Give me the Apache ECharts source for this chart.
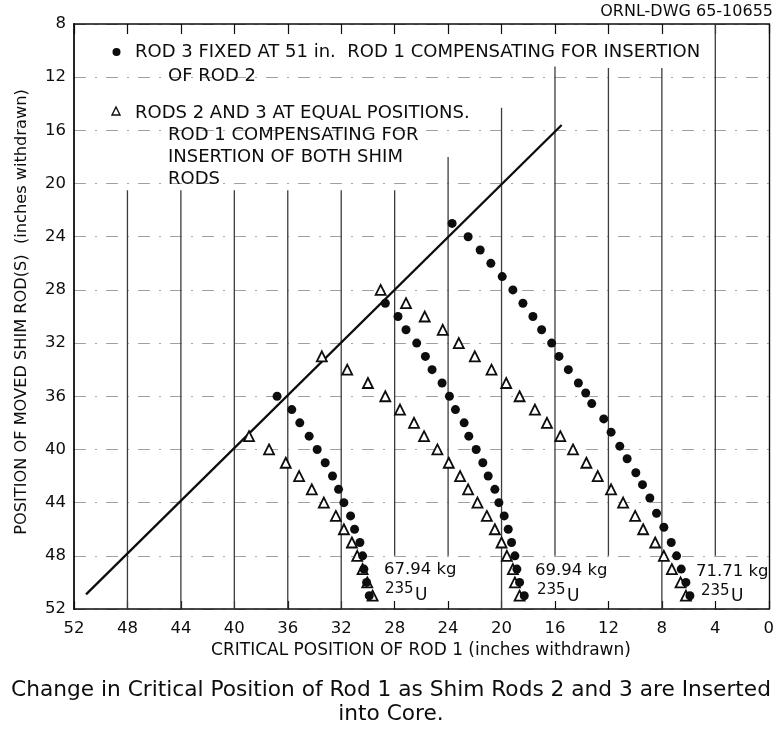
<!DOCTYPE html>
<html>
<head>
<meta charset="utf-8">
<script src="https://cdn.jsdelivr.net/npm/echarts@6/dist/echarts.min.js"></script>
<style>
  html, body { margin: 0; padding: 0; background: #ffffff; }
  #chart { width: 777px; height: 730px; }
</style>
</head>
<body>
<div id="chart"></div>
<script>
// Axis ticks (inches withdrawn)
const rod1Ticks = [52, 48, 44, 40, 36, 32, 28, 24, 20, 16, 12, 8, 4, 0];
const shimTicks = [8, 12, 16, 20, 24, 28, 32, 36, 40, 44, 48, 52];

// Rod 3 fixed at 51 in., rod 1 compensating for insertion of rod 2 (filled dots)
const fixed6794Shim = [36, 37, 38, 39, 40, 41, 42, 43, 44, 45, 46, 47, 48, 49, 50, 51];
const fixed6794Rod1 = [36.8, 35.7, 35.1, 34.4, 33.8, 33.2, 32.65, 32.2, 31.8, 31.3, 31.0, 30.6, 30.4, 30.3, 30.1, 29.9];

const fixed6994Shim = [29, 30, 31, 32, 33, 34, 35, 36, 37, 38, 39, 40, 41, 42, 43, 44, 45, 46, 47, 48, 49, 50, 51];
const fixed6994Rod1 = [28.7, 27.75, 27.15, 26.35, 25.7, 25.2, 24.45, 23.9, 23.45, 22.8, 22.45, 21.9, 21.4, 21.0, 20.5, 20.2, 19.8, 19.5, 19.25, 19.0, 18.85, 18.65, 18.3];

const fixed7171Shim = [23, 24, 25, 26, 27, 28, 29, 30, 31, 32, 33, 34, 35, 35.75, 36.55, 37.7, 38.7, 39.75, 40.7, 41.75, 42.65, 43.65, 44.8, 45.85, 47, 48, 49, 50, 51];
const fixed7171Rod1 = [23.7, 22.5, 21.6, 20.8, 19.95, 19.15, 18.4, 17.65, 17.0, 16.25, 15.7, 15.0, 14.25, 13.7, 13.25, 12.35, 11.8, 11.15, 10.6, 9.95, 9.45, 8.9, 8.4, 7.85, 7.3, 6.9, 6.55, 6.2, 5.9];

// Rods 2 and 3 at equal positions, rod 1 compensating for both (open triangles)
const equal6794Shim = [39, 40, 41, 42, 43, 44, 45, 46, 47, 48, 49, 50, 51];
const equal6794Rod1 = [38.9, 37.4, 36.15, 35.15, 34.2, 33.3, 32.4, 31.8, 31.2, 30.8, 30.4, 30.05, 29.65];

const equal6994Shim = [33, 34, 35, 36, 37, 38, 39, 40, 41, 42, 43, 44, 45, 46, 47, 48, 49, 50, 51];
const equal6994Rod1 = [33.45, 31.55, 30.0, 28.7, 27.6, 26.55, 25.8, 24.8, 23.95, 23.1, 22.5, 21.8, 21.1, 20.5, 20.0, 19.6, 19.15, 19.0, 18.65];

const equal7171Shim = [28, 29, 30, 31, 32, 33, 34, 35, 36, 37, 38, 39, 40, 41, 42, 43, 44, 45, 46, 47, 48, 49, 50, 51];
const equal7171Rod1 = [29.05, 27.15, 25.75, 24.4, 23.2, 22.0, 20.75, 19.65, 18.65, 17.5, 16.6, 15.6, 14.65, 13.65, 12.8, 11.8, 10.9, 10.0, 9.4, 8.5, 7.85, 7.25, 6.6, 6.2];

// Reference diagonal: rod 1 at the same position as the moved shim rod
const diagonalRod1 = [51.1, 15.5];
const diagonalShim = [50.9, 15.6];

// Vertical rules: rod-1 position, and the shim range each rule spans
const ruleRod1 = [48, 44, 40, 36, 32, 28, 24, 20, 16, 12, 8, 4];
const ruleFrom = [20.5, 20.5, 20.5, 20.5, 20.5, 20.5, 18, 14.3, 11.2, 11.3, 11.3, 8];
const ruleTo   = [52, 52, 52, 52, 52, 48, 48, 52, 48, 48, 52, 48];

// U-235 loadings written beside each set of curves
const loadings = ['67.94 kg', '69.94 kg', '71.71 kg'];

const INK = '#0d0d0d';
const FONT = '"DejaVu Sans", "Liberation Sans", sans-serif';

function pairs(xs, ys) { return xs.map((x, i) => [x, ys[i]]); }

const dotStyle = { color: INK, opacity: 1 };
const triStyle = { color: '#ffffff', borderColor: INK, borderWidth: 1.8, opacity: 1 };

const chart = echarts.init(document.getElementById('chart'), null, { renderer: 'canvas' });

function txt(x, y, text, size, extra) {
  return {
    type: 'text', x: x, y: y, z: 50,
    style: Object.assign({ text: text, fill: INK, font: size + 'px ' + FONT, textVerticalAlign: 'middle' }, extra || {})
  };
}

const LEG = 18;
const graphics = [
  txt(773, 12, 'ORNL-DWG 65-10655', 16, { textAlign: 'right' }),
  // legend block
  { type: 'circle', shape: { cx: 116.5, cy: 52, r: 4 }, style: { fill: INK }, z: 50 },
  txt(135, 52, 'ROD 3 FIXED AT 51 in.  ROD 1 COMPENSATING FOR INSERTION', LEG),
  txt(168, 76, 'OF ROD 2', LEG),
  { type: 'polygon', shape: { points: [[116, 107], [112, 115], [120, 115]] }, style: { fill: '#fff', stroke: INK, lineWidth: 1.4 }, z: 50 },
  txt(135, 113, 'RODS 2 AND 3 AT EQUAL POSITIONS.', LEG),
  txt(168, 135, 'ROD 1 COMPENSATING FOR', LEG),
  txt(168, 157, 'INSERTION OF BOTH SHIM', LEG),
  txt(168, 179, 'RODS', LEG),
  // loadings
  txt(384, 570, loadings[0], 16.5), txt(385, 589, '235', 15), txt(415, 596, 'U', 17),
  txt(535, 571, loadings[1], 16.5), txt(537, 590, '235', 15), txt(567, 597, 'U', 17),
  txt(696, 572, loadings[2], 16.5), txt(701, 591, '235', 15), txt(731, 597, 'U', 17),
  // axis titles
  txt(421, 651, 'CRITICAL POSITION OF ROD 1 (inches withdrawn)', 17, { textAlign: 'center' }),
  Object.assign(txt(22, 312, 'POSITION OF MOVED SHIM ROD(S)  (inches withdrawn)', 16.2, { textAlign: 'center' }), { rotation: Math.PI / 2 }),
  // caption
  txt(391, 690, 'Change in Critical Position of Rod 1 as Shim Rods 2 and 3 are Inserted', 21.7, { textAlign: 'center' }),
  txt(391, 714, 'into Core.', 21.7, { textAlign: 'center' })
];

const option = {
  backgroundColor: '#ffffff',
  animation: false,
  grid: { left: 74, right: 5, top: 24, bottom: 121, containLabel: false },
  xAxis: [
    {
      type: 'value', min: 0, max: 52, interval: 4, inverse: true, position: 'bottom',
      axisLine: { show: true, lineStyle: { color: INK, width: 1.6 } },
      axisTick: { show: true, inside: true, length: 8, lineStyle: { color: INK, width: 1.2 } },
      axisLabel: { color: INK, fontSize: 16.5, fontFamily: FONT, margin: 11,
        formatter: v => rod1Ticks.indexOf(v) >= 0 ? String(v) : '' },
      splitLine: { show: false }
    },
    {
      type: 'value', min: 0, max: 52, interval: 4, inverse: true, position: 'top',
      axisLine: { show: true, onZero: false, lineStyle: { color: INK, width: 1.6 } },
      axisTick: { show: true, inside: true, length: 10, lineStyle: { color: INK, width: 1.2 } },
      axisLabel: { show: false }, splitLine: { show: false }
    }
  ],
  yAxis: [
    {
      type: 'value', min: 8, max: 52, interval: 4, inverse: true, position: 'left',
      axisLine: { show: true, onZero: false, lineStyle: { color: INK, width: 1.8 } },
      axisTick: { show: false },
      axisLabel: { color: INK, fontSize: 16.5, fontFamily: FONT, margin: 8,
        formatter: v => shimTicks.indexOf(v) >= 0 ? String(v) : '' },
      splitLine: { show: true, lineStyle: { color: '#a3a3a3', width: 1.1, type: [12, 9, 2, 9] } }
    },
    {
      type: 'value', min: 8, max: 52, interval: 4, inverse: true, position: 'right',
      axisLine: { show: true, onZero: false, lineStyle: { color: INK, width: 1.4 } },
      axisTick: { show: false }, axisLabel: { show: false }, splitLine: { show: false }
    }
  ],
  graphic: graphics,
  series: [
    {
      name: 'rules', type: 'custom', silent: true, z: 1,
      encode: { x: 0, y: [1, 2] },
      data: ruleRod1.map((x, i) => [x, ruleFrom[i], ruleTo[i]]),
      renderItem: function (params, api) {
        const a = api.coord([api.value(0), api.value(1)]);
        const b = api.coord([api.value(0), api.value(2)]);
        return { type: 'line', shape: { x1: a[0], y1: a[1], x2: b[0], y2: b[1] },
          style: { stroke: '#3c3c3c', lineWidth: 1.3 } };
      }
    },
    {
      name: 'diagonal', type: 'line', z: 3, symbol: 'none',
      lineStyle: { color: INK, width: 2.3 },
      data: pairs(diagonalRod1, diagonalShim)
    },
    { name: 'equal 67.94', type: 'scatter', z: 4, symbol: 'triangle', symbolSize: 10, itemStyle: triStyle, data: pairs(equal6794Rod1, equal6794Shim) },
    { name: 'equal 69.94', type: 'scatter', z: 4, symbol: 'triangle', symbolSize: 10, itemStyle: triStyle, data: pairs(equal6994Rod1, equal6994Shim) },
    { name: 'equal 71.71', type: 'scatter', z: 4, symbol: 'triangle', symbolSize: 10, itemStyle: triStyle, data: pairs(equal7171Rod1, equal7171Shim) },
    { name: 'fixed 67.94', type: 'scatter', z: 5, symbol: 'circle', symbolSize: 9, itemStyle: dotStyle, data: pairs(fixed6794Rod1, fixed6794Shim) },
    { name: 'fixed 69.94', type: 'scatter', z: 5, symbol: 'circle', symbolSize: 9, itemStyle: dotStyle, data: pairs(fixed6994Rod1, fixed6994Shim) },
    { name: 'fixed 71.71', type: 'scatter', z: 5, symbol: 'circle', symbolSize: 9, itemStyle: dotStyle, data: pairs(fixed7171Rod1, fixed7171Shim) }
  ]
};

chart.setOption(option);
</script>
</body>
</html>
